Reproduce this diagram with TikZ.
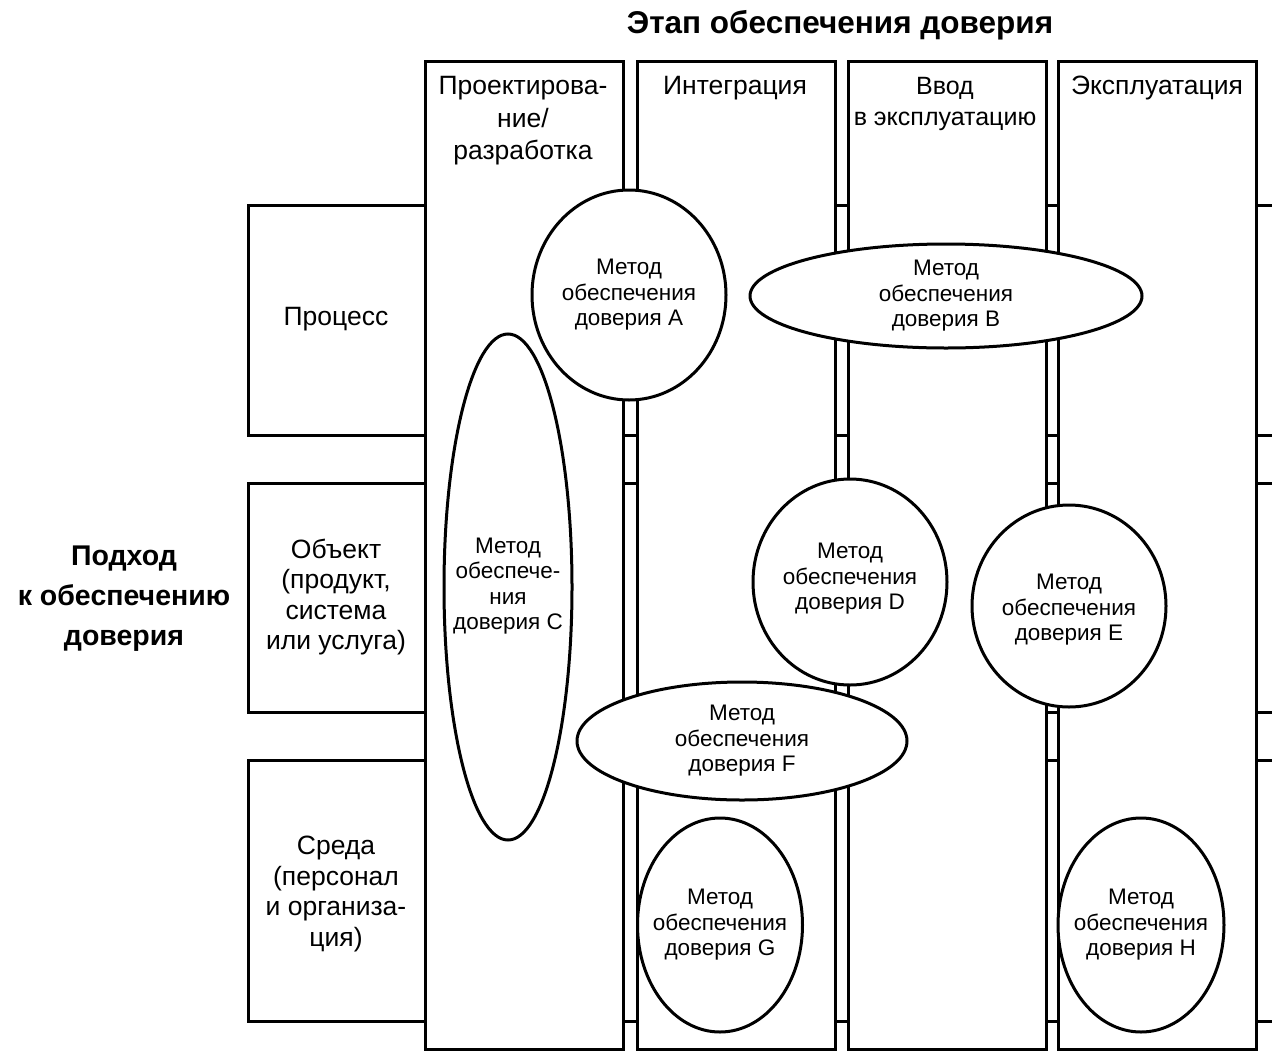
\documentclass[tikz,border=0pt]{standalone}
\usepackage{fontspec}
\setmainfont{Liberation Sans}
\usetikzlibrary{shapes.geometric}
\begin{document}
\begin{tikzpicture}[x=1pt,y=-1pt,line width=3pt,
  colbox/.style={draw,fill=white,rectangle,minimum width=198pt,minimum height=988pt,inner sep=0pt,anchor=north west},
  meth/.style={ellipse,draw,fill=white,inner sep=0pt},
  mtext/.style={align=center,inner sep=0pt,font=\fontsize{22.5}{25.5}\selectfont},
  hdr/.style={align=center,inner sep=0pt,font=\fontsize{26.5}{32.5}\selectfont},
  rowtext/.style={align=center,inner sep=0pt,font=\fontsize{26.5}{30.5}\selectfont},
  big/.style={align=center,inner sep=0pt,font=\bfseries\fontsize{28.5}{40}\selectfont}]
\useasboundingbox (0,0) rectangle (1272,1050);
% row frames
\draw (1272,205) -| (248,435) -- (1272,435);
\draw (1272,483) -| (248,712) -- (1272,712);
\draw (1272,760) -| (248,1021) -- (1272,1021);
\node[rowtext] (rP) at (336,319) {Процесс};
\node[rowtext] (rO) at (336,597) {Объект\\(продукт,\\система\\или услуга)};
\node[rowtext] (rS) at (336,894) {Среда\\(персонал\\и организа-\\ция)};
% columns
\node[colbox] (c1) at (424,60) {};
\node[colbox] (c2) at (636,60) {};
\node[colbox] (c3) at (847,60) {};
\node[colbox] (c4) at (1057,60) {};
\node[hdr] (h1) at (523,121) {Проектирова-\\ние/\\разработка};
\node[hdr] (h2) at (735,88) {Интеграция};
\node[hdr,font=\fontsize{25}{31.5}\selectfont] (h3) at (945,104) {Ввод\\в эксплуатацию};
\node[hdr] (h4) at (1157,88) {Эксплуатация};
% titles
\node[big,font=\bfseries\fontsize{31.5}{40}\selectfont] (title) at (840,25) {Этап обеспечения доверия};
\node[big] (left) at (124,599) {Подход\\к обеспечению\\доверия};
% methods
\node[meth,minimum width=128pt,minimum height=506pt] (mC) at (508,587) {};
\node[mtext] at (508,586) {Метод\\обеспече-\\ния\\доверия C};
\node[meth,minimum width=194pt,minimum height=210pt] (mA) at (629,295) {};
\node[mtext] at (mA) {Метод\\обеспечения\\доверия A};
\node[meth,minimum width=392pt,minimum height=104pt] (mB) at (946,296) {};
\node[mtext] at (mB) {Метод\\обеспечения\\доверия B};
\node[meth,minimum width=194pt,minimum height=206pt] (mD) at (850,582) {};
\node[mtext] at (850,579) {Метод\\обеспечения\\доверия D};
\node[meth,minimum width=194pt,minimum height=202pt] (mE) at (1069,606) {};
\node[mtext] at (1069,610) {Метод\\обеспечения\\доверия E};
\node[meth,minimum width=330pt,minimum height=118pt] (mF) at (742,741) {};
\node[mtext] at (mF) {Метод\\обеспечения\\доверия F};
\node[meth,minimum width=165pt,minimum height=214pt] (mG) at (720,925) {};
\node[mtext] at (mG) {Метод\\обеспечения\\доверия G};
\node[meth,minimum width=166pt,minimum height=214pt] (mH) at (1141,925) {};
\node[mtext] at (mH) {Метод\\обеспечения\\доверия H};
\end{tikzpicture}
\end{document}
